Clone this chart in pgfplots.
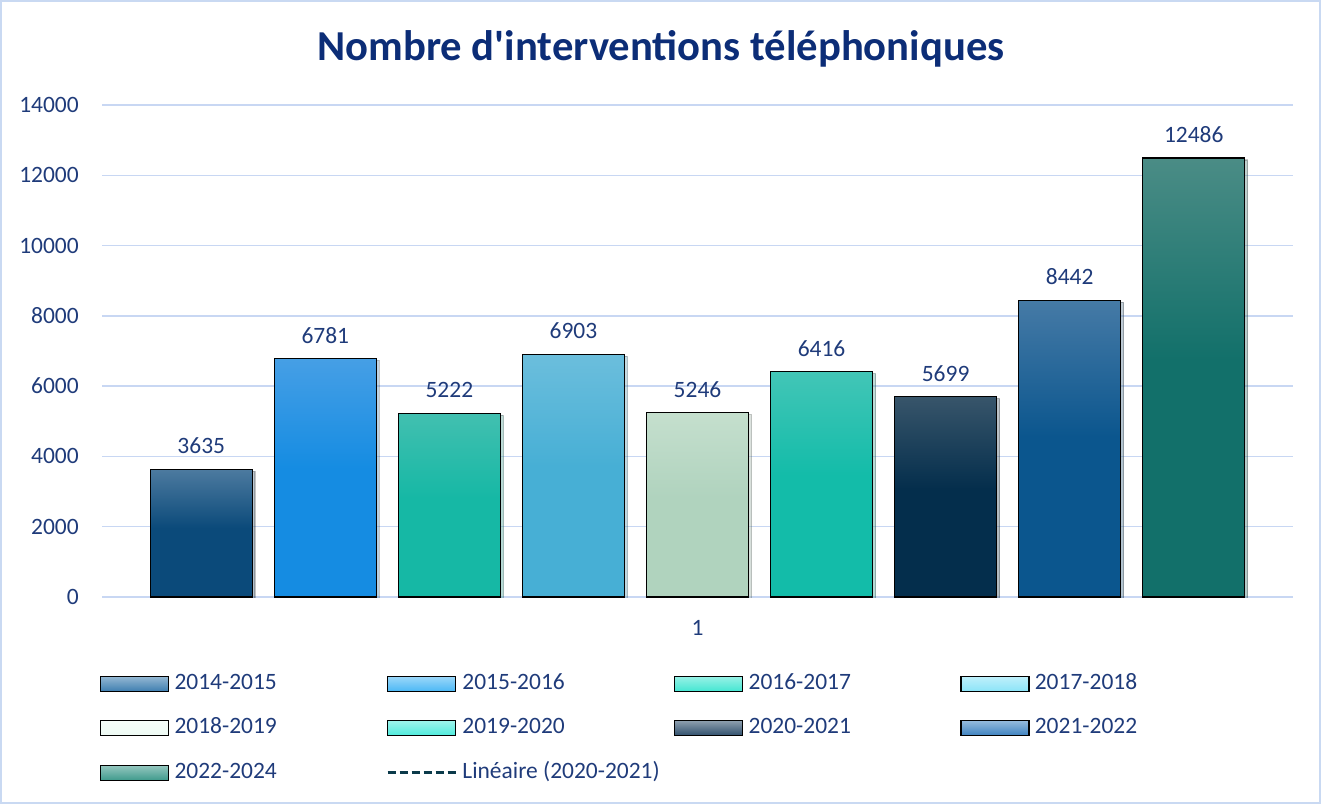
\documentclass[border=0pt]{standalone}
\usepackage{pgfplots}
\pgfplotsset{compat=1.18}
\usepackage{fontspec}
\setmainfont{Carlito}
\usetikzlibrary{shadows}

\definecolor{txtcol}{HTML}{1F3B7A}
\definecolor{titlecol}{HTML}{0C2D77}
\definecolor{gridcol}{HTML}{C8D7F3}
\definecolor{bordercol}{HTML}{C9D9F2}

% bar colours: base (b), top highlight (t), top edge (u)
\definecolor{bA}{HTML}{0B4A7A}\definecolor{tA}{HTML}{7D9EBB}\definecolor{uA}{HTML}{B5C9DB}
\definecolor{bB}{HTML}{158CE2}\definecolor{tB}{HTML}{6AADE8}\definecolor{uB}{HTML}{A8DDF8}
\definecolor{bC}{HTML}{16B8A5}\definecolor{tC}{HTML}{62C5B8}\definecolor{uC}{HTML}{9EDDD4}
\definecolor{bD}{HTML}{47AFD5}\definecolor{tD}{HTML}{86C9E2}\definecolor{uD}{HTML}{B8E8F5}
\definecolor{bE}{HTML}{B0D3BE}\definecolor{tE}{HTML}{D4E8D9}\definecolor{uE}{HTML}{E8F4EC}
\definecolor{bF}{HTML}{13BCA9}\definecolor{tF}{HTML}{65CDC1}\definecolor{uF}{HTML}{A0E2DA}
\definecolor{bG}{HTML}{042E4C}\definecolor{tG}{HTML}{5E7281}\definecolor{uG}{HTML}{9AA8B2}
\definecolor{bH}{HTML}{0B568E}\definecolor{tH}{HTML}{7195B8}\definecolor{uH}{HTML}{ADC6DE}
\definecolor{bI}{HTML}{12706A}\definecolor{tI}{HTML}{74A19A}\definecolor{uI}{HTML}{ADCBC6}

\pgfdeclareverticalshading{shA}{100bp}{color(0bp)=(bA); color(52bp)=(bA); color(92bp)=(tA); color(100bp)=(uA)}
\pgfdeclareverticalshading{shB}{100bp}{color(0bp)=(bB); color(52bp)=(bB); color(92bp)=(tB); color(100bp)=(uB)}
\pgfdeclareverticalshading{shC}{100bp}{color(0bp)=(bC); color(52bp)=(bC); color(92bp)=(tC); color(100bp)=(uC)}
\pgfdeclareverticalshading{shD}{100bp}{color(0bp)=(bD); color(52bp)=(bD); color(92bp)=(tD); color(100bp)=(uD)}
\pgfdeclareverticalshading{shE}{100bp}{color(0bp)=(bE); color(52bp)=(bE); color(92bp)=(tE); color(100bp)=(uE)}
\pgfdeclareverticalshading{shF}{100bp}{color(0bp)=(bF); color(52bp)=(bF); color(92bp)=(tF); color(100bp)=(uF)}
\pgfdeclareverticalshading{shG}{100bp}{color(0bp)=(bG); color(52bp)=(bG); color(92bp)=(tG); color(100bp)=(uG)}
\pgfdeclareverticalshading{shH}{100bp}{color(0bp)=(bH); color(52bp)=(bH); color(92bp)=(tH); color(100bp)=(uH)}
\pgfdeclareverticalshading{shI}{100bp}{color(0bp)=(bI); color(52bp)=(bI); color(92bp)=(tI); color(100bp)=(uI)}

% legend swatch colours
\definecolor{lA}{HTML}{3F7FB0}
\definecolor{lB}{HTML}{4CB8F5}
\definecolor{lC}{HTML}{45E6D2}
\definecolor{lD}{HTML}{8CE4F8}
\definecolor{lE}{HTML}{EEFBF4}
\definecolor{lF}{HTML}{4EEBDC}
\definecolor{lG}{HTML}{2F4F6C}
\definecolor{lH}{HTML}{3D82C0}
\definecolor{lI}{HTML}{3F9A8C}
\definecolor{trend}{HTML}{0B3A4A}

\pgfplotsset{
  barstyle/.style={ybar, forget plot, bar shift=0pt, bar width=76.5pt,
    draw=black, line width=1.1pt, shading=#1,
    drop shadow={opacity=0.22, shadow xshift=2.2pt, shadow yshift=-1.5pt}},
  swatch/.style={legend image code/.code={%
    \draw[draw=black, line width=0.9pt, top color=#1!55!white, bottom color=#1]
      (0pt,-5.6pt) rectangle (51pt,5.6pt);}},
}

\newcommand{\legtxt}[1]{\makebox[157.5pt][l]{\hspace*{4pt}#1}}

\begin{document}
\begin{tikzpicture}
\draw[bordercol, line width=1.2pt] (0.6pt,-0.6pt) rectangle (990.15pt,-602.4pt);
\node[font=\fontsize{32pt}{38pt}\selectfont\bfseries, text=titlecol] at (495.75pt,-37pt)
  {Nombre d\textquotesingle interventions téléphoniques};
\begin{axis}[
  at={(76.5pt,-447.75pt)}, anchor=south west,
  scale only axis, width=893.25pt, height=369pt,
  xmin=0.2, xmax=9.8, ymin=0, ymax=14000,
  ytick={0,2000,...,14000},
  xtick={5}, xticklabels={1},
  major tick length=0pt,
  axis line style={draw=none},
  ymajorgrids, grid style={gridcol, line width=1.1pt},
  scaled y ticks=false,
  /pgf/number format/1000 sep={},
  /pgf/number format/assume math mode=true,
  tick label style={font=\fontsize{17.6pt}{20pt}\selectfont, text=txtcol},
  yticklabel style={anchor=east, inner sep=0pt, xshift=-17.25pt},
  xticklabel style={anchor=center, inner sep=0pt, yshift=-23.25pt},
  nodes near coords,
  every node near coord/.append style={font=\fontsize{17.6pt}{20pt}\selectfont,
     text=txtcol, anchor=center, yshift=17.5pt},
  legend columns=4,
  legend cell align=left,
  legend style={at={(-0.0017,-0.1545)}, anchor=north west,
    draw=none, fill=none, inner sep=0pt, outer sep=0pt,
    font=\fontsize{17.6pt}{20pt}\selectfont, text=txtcol,
    nodes={inner sep=0pt, text height=12pt, text depth=4pt},
    column sep=0pt, row sep=17.4pt,
    /tikz/every even column/.append style={column sep=5.25pt}},
]
\addplot[barstyle=shA] coordinates {(1,3635)};
\addplot[barstyle=shB] coordinates {(2,6781)};
\addplot[barstyle=shC] coordinates {(3,5222)};
\addplot[barstyle=shD] coordinates {(4,6903)};
\addplot[barstyle=shE] coordinates {(5,5246)};
\addplot[barstyle=shF] coordinates {(6,6416)};
\addplot[barstyle=shG] coordinates {(7,5699)};
\addplot[barstyle=shH] coordinates {(8,8442)};
\addplot[barstyle=shI] coordinates {(9,12486)};

\addlegendimage{swatch=lA}\addlegendentry{\legtxt{2014-2015}}
\addlegendimage{swatch=lB}\addlegendentry{\legtxt{2015-2016}}
\addlegendimage{swatch=lC}\addlegendentry{\legtxt{2016-2017}}
\addlegendimage{swatch=lD}\addlegendentry{\legtxt{2017-2018}}
\addlegendimage{swatch=lE}\addlegendentry{\legtxt{2018-2019}}
\addlegendimage{swatch=lF}\addlegendentry{\legtxt{2019-2020}}
\addlegendimage{swatch=lG}\addlegendentry{\legtxt{2020-2021}}
\addlegendimage{swatch=lH}\addlegendentry{\legtxt{2021-2022}}
\addlegendimage{swatch=lI}\addlegendentry{\legtxt{2022-2024}}
\addlegendimage{legend image code/.code={\draw[trend, line width=2.2pt, dash pattern=on 6pt off 3pt] (0pt,0pt) -- (51pt,0pt);}}
\addlegendentry{\legtxt{Linéaire (2020-2021)}}
\end{axis}
\end{tikzpicture}
\end{document}
